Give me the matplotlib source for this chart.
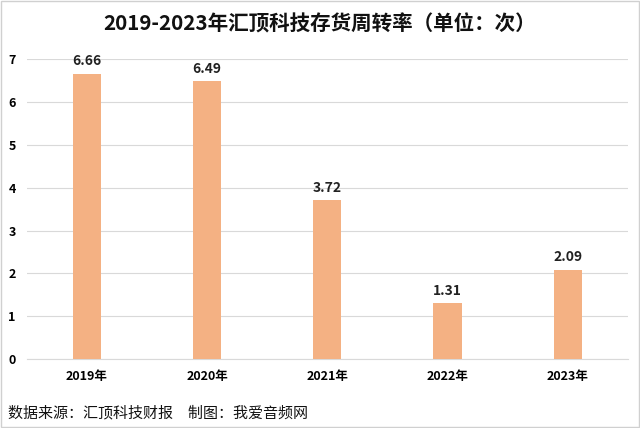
import matplotlib.pyplot as plt
import numpy as np

plt.rcParams['font.family'] = ['Noto Sans CJK SC', 'DejaVu Sans']

years = ["2019年", "2020年", "2021年", "2022年", "2023年"]
turnover = [6.66, 6.49, 3.72, 1.31, 2.09]
yticks = [0, 1, 2, 3, 4, 5, 6, 7]

fig = plt.figure(figsize=(6.4, 4.28), dpi=100)
ax = fig.add_axes([0.042, 0.161, 0.939, 0.701])

x = np.arange(len(years))
bars = ax.bar(x, turnover, width=0.235, color="#F4B183", zorder=3)
for xi, v in zip(x, turnover):
    ax.text(xi, v + 0.12, f"{v:.2f}", ha="center", va="bottom",
            fontsize=10, fontweight="bold", color="#222222")

ax.set_xlim(-0.5, len(years) - 0.5)
ax.set_ylim(0, 7)
ax.set_yticks(yticks)
ax.set_yticklabels([str(t) for t in yticks], fontsize=9, fontweight="bold")
ax.set_xticks(x)
ax.set_xticklabels(years, fontsize=9, fontweight="bold")
ax.tick_params(length=0, pad=8)
ax.grid(axis="y", color="#D9D9D9", linewidth=0.8, zorder=0)
for s in ["top", "right", "left"]:
    ax.spines[s].set_visible(False)
ax.spines["bottom"].set_color("#D9D9D9")

fig.text(0.5, 0.944, "2019-2023年汇顶科技存货周转率（单位：次）", ha="center", va="center",
         fontsize=14.8, fontweight="bold", color="#111111")
fig.text(0.012, 0.035, "数据来源：汇顶科技财报　制图：我爱音频网", ha="left", va="center",
         fontsize=10.8, fontweight="medium", color="#111111")

border = plt.Rectangle((0.002, 0.002), 0.996, 0.996, transform=fig.transFigure,
                       fill=False, edgecolor="#D0D0D0", linewidth=1)
fig.patches.append(border)

fig.savefig("out.png", dpi=100)
